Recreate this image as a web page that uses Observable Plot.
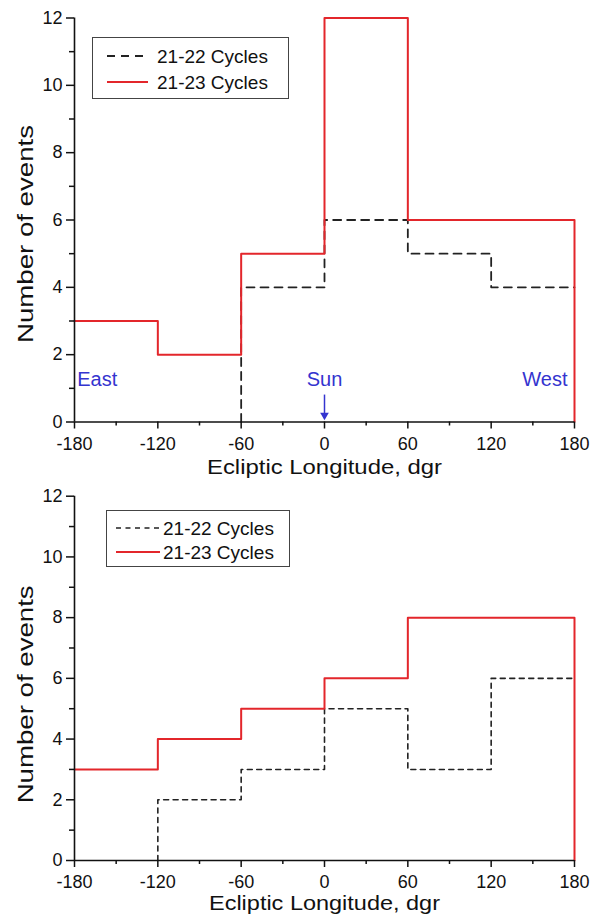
<!DOCTYPE html>
<html>
<head>
<meta charset="utf-8">
<script src="https://cdn.jsdelivr.net/npm/d3@7"></script>
<script src="https://cdn.jsdelivr.net/npm/@observablehq/plot@0.6"></script>
<style>
  html, body { margin: 0; padding: 0; background: #fff; }
  #wrap { position: relative; width: 602px; height: 922px; font-family: "Liberation Sans", Arial, sans-serif; }
  #wrap svg { display: block; overflow: visible; }
  .legend { position: absolute; border: 1px solid #444; background: #fff; box-sizing: border-box; }
  .legend .row { position: absolute; left: 0; height: 20px; white-space: nowrap; font-size: 19px; color: #111; }
  .legend svg { position: absolute; left: 0; top: 0; overflow: visible; }
  .legend span { position: absolute; top: 50%; transform: translateY(-50%); line-height: 1; }
</style>
</head>
<body>
<div id="wrap"></div>
<script>
// ---- data ----
const binEdges = [-180, -120, -60, 0, 60, 120, 180];
const seriesNames = ["21-22 Cycles", "21-23 Cycles"];
// top panel (number of events per 60° bin)
const top2122 = [null, null, 4, 6, 5, 4];
const top2123 = [3, 2, 5, 12, 6, 6];
// bottom panel
const bot2122 = [null, 2, 3, 5, 3, 6];
const bot2123 = [3, 4, 5, 6, 8, 8];
const xTicks = [-180, -120, -60, 0, 60, 120, 180];
const xMinor = [-150, -90, -30, 30, 90, 150];
const yTicks = [0, 2, 4, 6, 8, 10, 12];
const yMinor = [1, 3, 5, 7, 9, 11];
const directionLabels = ["East", "Sun", "West"];
const xTitle = "Ecliptic Longitude, dgr";
const yTitle = "Number of events";

const RED = "#e3262b";
const BLUE = "#3434cf";
const DARK = "#222";
const FONT = "'Liberation Sans', Arial, sans-serif";
const Y_TITLE_LEN = 218;

function steps(vals, dropEnd) {
  const pts = [];
  let started = false, last = 0;
  vals.forEach((v, i) => {
    if (v == null) return;
    if (!started) { started = true; if (i > 0) pts.push({x: binEdges[i], y: 0}); }
    pts.push({x: binEdges[i], y: v});
    last = v;
  });
  const end = binEdges[binEdges.length - 1];
  pts.push({x: end, y: last});
  if (dropEnd) pts.push({x: end, y: 0});
  return pts;
}

function axes(xLabelDy, yLabelDy) {
  return [
    Plot.axisX({ticks: xTicks, tickSize: 7, tickPadding: 8, fontSize: 18, tickFormat: d => String(d), label: null, strokeWidth: 1.5}),
    Plot.axisX({ticks: xMinor, tickSize: 4, tickFormat: () => "", label: null, strokeWidth: 1.5}),
    Plot.axisY({ticks: yTicks, tickSize: 8, tickPadding: 4, fontSize: 18, tickFormat: d => String(d), label: null, strokeWidth: 1.5}),
    Plot.axisY({ticks: yMinor, tickSize: 5, tickFormat: () => "", label: null, strokeWidth: 1.5}),
    Plot.ruleY([0], {stroke: "#111", strokeWidth: 1.6}),
    Plot.ruleX([-180], {stroke: "#111", strokeWidth: 1.6}),
    Plot.text([xTitle], {frameAnchor: "bottom", dy: xLabelDy, fontSize: 21, fill: "#111"}),
    Plot.text([yTitle], {frameAnchor: "left", rotate: -90, textAnchor: "start", dx: -49, dy: yLabelDy + Y_TITLE_LEN / 2, fontSize: 22, fill: "#111"})
  ];
}

function stretch(svg, label, len) {
  svg.querySelectorAll("text").forEach(t => {
    if (t.textContent === label) {
      t.setAttribute("textLength", len);
      t.setAttribute("lengthAdjust", "spacingAndGlyphs");
    }
  });
}

const topPlot = Plot.plot({
  width: 602, height: 484,
  marginLeft: 74, marginRight: 28, marginTop: 17.5, marginBottom: 62.5,
  style: {fontFamily: FONT, background: "#fff", color: "#111", overflow: "visible"},
  x: {domain: [-180, 180]},
  y: {domain: [0, 12]},
  marks: [
    Plot.line(steps(top2122, false), {x: "x", y: "y", curve: "step-after", stroke: DARK, strokeWidth: 1.8, strokeDasharray: "8 6"}),
    Plot.line(steps(top2123, true), {x: "x", y: "y", curve: "step-after", stroke: RED, strokeWidth: 2}),
    Plot.text([directionLabels[0]], {x: -178, y: 1.25, textAnchor: "start", fill: BLUE, fontSize: 20}),
    Plot.text([directionLabels[1]], {x: 0, y: 1.25, textAnchor: "middle", fill: BLUE, fontSize: 20}),
    Plot.text([directionLabels[2]], {x: 175, y: 1.25, textAnchor: "end", fill: BLUE, fontSize: 20}),
    Plot.ruleX([0], {y1: 0.8, y2: 0.2, stroke: BLUE, strokeWidth: 1.5}),
    Plot.dot([0], {x: d => d, y: 0.2, symbol: "triangle", rotate: 180, r: 3.2, fill: BLUE, stroke: "none"}),
    ...axes(51.5, 14)
  ]
});
stretch(topPlot, xTitle, 235);
stretch(topPlot, yTitle, Y_TITLE_LEN);

const botPlot = Plot.plot({
  width: 602, height: 438,
  marginLeft: 74, marginRight: 28, marginTop: 11.7, marginBottom: 62,
  style: {fontFamily: FONT, background: "transparent", color: "#111", overflow: "visible"},
  x: {domain: [-180, 180]},
  y: {domain: [0, 12]},
  marks: [
    Plot.line(steps(bot2122, false), {x: "x", y: "y", curve: "step-after", stroke: DARK, strokeWidth: 1.6, strokeDasharray: "5 4.5"}),
    Plot.line(steps(bot2123, true), {x: "x", y: "y", curve: "step-after", stroke: RED, strokeWidth: 2}),
    ...axes(49.5, 16)
  ]
});
stretch(botPlot, xTitle, 231);
stretch(botPlot, yTitle, Y_TITLE_LEN);

const wrap = document.getElementById("wrap");
wrap.appendChild(topPlot);
wrap.appendChild(botPlot);

function legend(box, lineX1, lineX2, textX, rows, dashes, width) {
  const el = document.createElement("div");
  el.className = "legend";
  el.style.left = box.left + "px"; el.style.top = box.top + "px";
  el.style.width = box.w + "px"; el.style.height = box.h + "px";
  rows.forEach((cy, i) => {
    const r = document.createElement("div");
    r.className = "row";
    r.style.top = (cy - box.top - 10) + "px";
    r.style.width = "100%";
    const ns = "http://www.w3.org/2000/svg";
    const s = document.createElementNS(ns, "svg");
    s.setAttribute("width", box.w); s.setAttribute("height", 20);
    const ln = document.createElementNS(ns, "line");
    ln.setAttribute("x1", lineX1 - box.left); ln.setAttribute("x2", lineX2 - box.left);
    ln.setAttribute("y1", 10); ln.setAttribute("y2", 10);
    ln.setAttribute("stroke", i === 0 ? DARK : RED);
    ln.setAttribute("stroke-width", width[i]);
    if (i === 0) ln.setAttribute("stroke-dasharray", dashes);
    s.appendChild(ln);
    r.appendChild(s);
    const t = document.createElement("span");
    t.textContent = seriesNames[i];
    t.style.left = (textX - box.left - 1) + "px";
    r.appendChild(t);
    el.appendChild(r);
  });
  wrap.appendChild(el);
}
legend({left: 92, top: 37, w: 197, h: 62}, 106, 147, 157, [55, 81], "8 6", [1.8, 2]);
legend({left: 106, top: 510, w: 184, h: 57}, 115, 159, 163, [527, 551], "5 4.5", [1.6, 2]);
</script>
</body>
</html>
